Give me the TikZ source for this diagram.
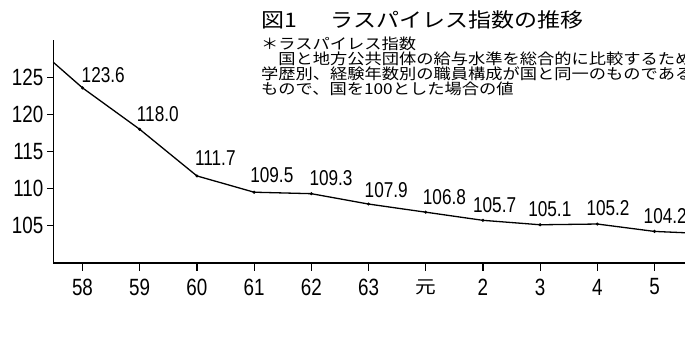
\documentclass[tikz,border=0pt]{standalone}
\usepackage{fontspec}
\newfontfamily\numfont[FakeStretch=0.8]{Liberation Sans}
\newfontfamily\jpfont[FakeStretch=1.15]{Noto Sans CJK JP}
\newfontfamily\jpwide[FakeStretch=1.15]{Noto Sans CJK JP}
\tikzset{
  axisline/.style={line width=1.6pt, black},
  tickline/.style={line width=1.2pt, black},
  dataline/.style={line width=1.3pt, black, line join=round},
  dotmark/.style={circle, fill=black, inner sep=0pt, minimum size=3.4pt},
  ylab/.style={inner sep=0pt, font=\numfont\fontsize{23.5}{23.5}\selectfont},
  xlab/.style={inner sep=0pt, font=\numfont\fontsize{23.5}{23.5}\selectfont},
  vallab/.style={inner sep=0pt, anchor=south west, font=\numfont\fontsize{21.5}{21.5}\selectfont},
  titletext/.style={inner sep=0pt, anchor=north west, font=\jpfont\fontsize{20}{20}\selectfont},
  notetext/.style={inner sep=0pt, anchor=north west, align=left, font=\jpwide\fontsize{15}{15}\selectfont},
}
\begin{document}
\begin{tikzpicture}[x=1pt,y=-1pt]
\useasboundingbox (0,0) rectangle (685,343);
\clip (0,0) rectangle (685,343);
\fill[white] (0,0) rectangle (685,343);
% axes
\coordinate (ytop) at (53.3,40);
\coordinate (orig) at (53.3,263);
\coordinate (xend) at (686,263);
\draw[axisline] (ytop) -- (orig) -- (xend);
% y ticks and labels
\foreach \v in {105,110,115,120,125}{
  \pgfmathsetmacro\yy{262.5-(\v-100)*7.4}
  \coordinate (yta\v) at (47,\yy);
  \coordinate (ytb\v) at (53.3,\yy);
  \draw[tickline] (yta\v) -- (ytb\v);
  \node[ylab, anchor=east] (yl\v) at (43.5,\yy) {\v};
}
% x ticks and labels
\foreach \lab [count=\i from 0] in {58,59,60,61,62,63,{\jpfont\fontsize{18}{18}\selectfont 元},2,3,4,5}{
  \pgfmathsetmacro\xx{82.5+57.2*\i}
  \coordinate (xta\i) at (\xx,263);
  \coordinate (xtb\i) at (\xx,271);
  \draw[tickline] (xta\i) -- (xtb\i);
  \node[xlab] (xl\i) at (\xx,287) {\lab};
}
% data points
\coordinate (start) at (53.3,62.3);
\coordinate (finish) at (686,232.8);
\foreach \v/\dx/\dy [count=\i from 0] in {123.6/-1/5, 118.0/-3/7.5, 111.7/-2/10, 109.5/-4/9, 109.3/-2/8, 107.9/-4/6, 106.8/-3/7, 105.7/-10/7.5, 105.1/-12/8, 105.2/-11/8, 104.2/-11/8}{
  \pgfmathsetmacro\xx{82.5+57.2*\i}
  \pgfmathsetmacro\yy{262.5-(\v-100)*7.4}
  \coordinate (p\i) at (\xx,\yy);
  \node[vallab] (v\i) at (\xx+\dx,\yy-\dy) {\v};
}
\draw[dataline] (start) -- (p0) -- (p1) -- (p2) -- (p3) -- (p4) -- (p5) -- (p6) -- (p7) -- (p8) -- (p9) -- (p10) -- (finish);
\foreach \i in {0,...,10}{
  \node[dotmark] (d\i) at (p\i) {};
}
% title and note
\node[titletext] (title) at (261,10) {図1\hspace{34pt}ラスパイレス指数の推移};
\node[notetext] (note) at (261,37) {＊ラスパイレス指数\\
　国と地方公共団体の給与水準を総合的に比較するため\\
学歴別、経験年数別の職員構成が国と同一のものである\\
もので、国を100とした場合の値};
\end{tikzpicture}
\end{document}
